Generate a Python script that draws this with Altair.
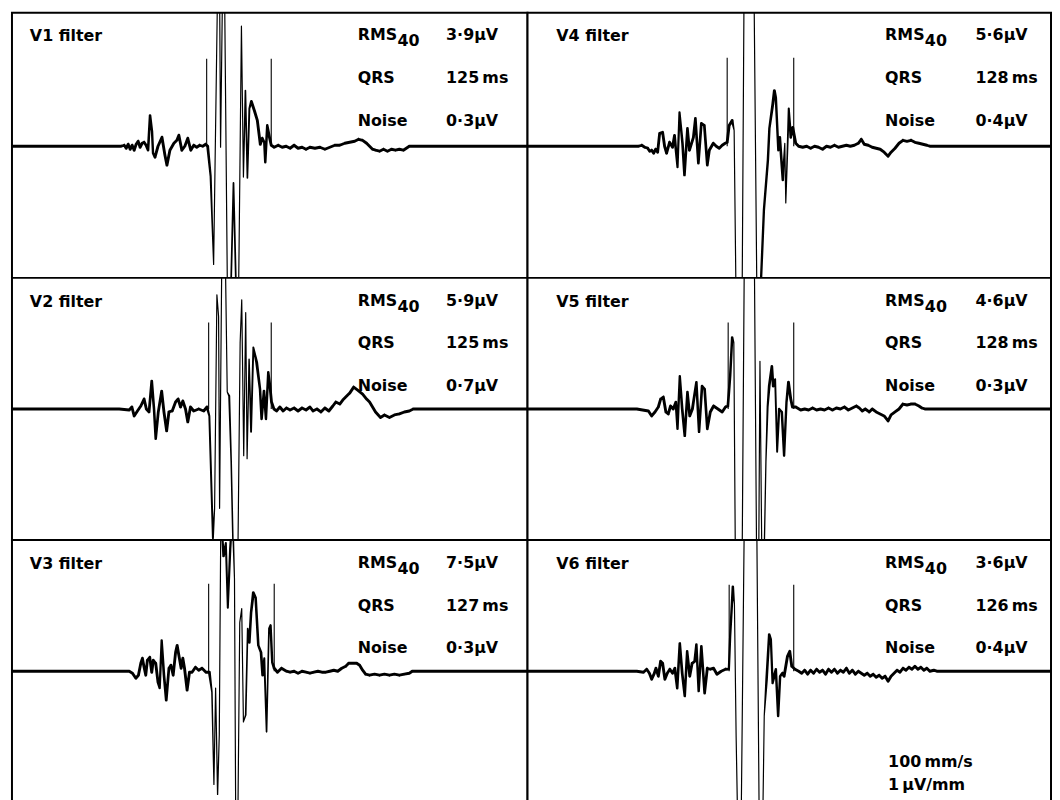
import altair as alt
import numpy as np
import pandas as pd

FONT = "DejaVu Sans"

# grid layout (row-major): left column V1, V2, V3 ; right column V4, V5, V6
GRID = [["V1", "V4"], ["V2", "V5"], ["V3", "V6"]]

LEADS = ["V1", "V2", "V3", "V4", "V5", "V6"]
RMS40 = ["3·9µV", "5·9µV", "7·5µV", "5·6µV", "4·6µV", "3·6µV"]
QRSD = ["125\u2009ms", "125\u2009ms", "127\u2009ms", "128\u2009ms", "128\u2009ms", "126\u2009ms"]
NOISE = ["0·3µV", "0·7µV", "0·3µV", "0·4µV", "0·3µV", "0·4µV"]
ONSET_MS = [196, 198, 198, 201, 202, 203]
OFFSET_MS = [261, 261, 264, 268, 268, 268]
MARK_TOP_UV = [8.8, 8.7, 8.8, 8.9, 8.7, 8.7]
SWEEP = "100\u2009mm/s"
GAIN = "1\u2009µV/mm"

# traces: (time ms, amplitude µV); values beyond the frame are clipped
V1_TRACE = [
    (0, 0), (110, 0), (113, 0.1), (115, -0.2), (117, 0.2), (119, -0.3), (121, 0.1), (123, -0.4), (125, 0.2),
    (127, 0.5), (129, -0.1), (131, 0.3), (133, 0.4), (135, 0.1), (137, -0.4), (139, 3.1), (141, 1.5), (142, -0.7),
    (144, -1.1), (147, 0.0), (151, 0.9), (154, -0.9), (156, -1.9), (159, -0.4), (163, 0.3), (166, 0.6), (168, 1.1),
    (171, -0.4), (174, 0.0), (177, 0.8), (180, -0.4), (183, 0.1), (186, -0.1), (189, 0.1), (192, 0.0), (195, 0.2),
    (197, 0.0), (200, -3.0), (203, -11.9), (207, 16), (209, 16), (210, -0.1), (212, 16), (214, 16), (217, -16),
    (220, -16), (223, -3.7), (226, -16), (228, -16), (231, 12.1), (233, -3.1), (235, 5.6), (237, -3.2), (239, 3.8),
    (241, 4.5), (244, 3.6), (247, 2.6), (250, 0.2), (252, 0.8), (254, 0.4), (255, -1.6), (257, 2.1), (259, 1.0),
    (261, 0.1), (264, -0.1), (268, 0.1), (272, -0.1), (276, 0.0), (280, -0.2), (284, 0.1), (288, -0.2), (292, -0.1),
    (296, -0.3), (300, -0.1), (305, -0.2), (310, -0.1), (315, -0.3), (320, -0.1), (325, 0.1), (330, 0.1), (335, 0.3),
    (340, 0.4), (345, 0.5), (349, 0.7), (353, 0.6), (357, 0.3), (360, 0.0), (363, -0.3), (366, -0.4), (370, -0.5),
    (374, -0.3), (378, -0.5), (382, -0.3), (386, -0.4), (390, -0.3), (394, -0.4), (397, -0.2), (400, 0.0), (519, 0),
]

V2_TRACE = [
    (0, 0), (108, 0), (118, -0.1), (120.7, 0.2), (123, -0.7), (126.3, -0.2), (129.7, 0.3), (133, 1.0), (135.3, 0.0),
    (138, -0.3), (140.7, 2.8), (143, 0.0), (144.7, -3.0), (147.3, -0.3), (150.7, 1.8), (153, -0.3), (155.7, -2.2),
    (158, -0.3), (161.3, -0.2), (164.7, 0.7), (167.3, 1.0), (169.7, 0.2), (172, 0.8), (174.7, 0.0), (177, -1.3),
    (179.7, 0.2), (183, -0.2), (188, 0.0), (193, -0.2), (196.3, 0.2),
    (198.7, -0.7), (202.3, -13.0), (204, -10.0), (206.3, 11.5), (208, 9.3), (209, -10.0), (211.3, 16), (214.7, 16),
    (216.7, 1.7), (218.7, 1.3), (220.7, -5.3), (223, -16), (227.3, -16), (229.7, 6.7), (231.3, 11.0), (233.3, -4.7),
    (235.3, 9.7), (236.7, -5.0), (238.7, 5.0), (240.7, -2.3), (243, 6.2), (246.3, 4.7), (249.7, 2.0), (251.3, -1.0),
    (253.7, 1.8), (255.7, -1.0), (258, 3.7), (259.7, 2.3), (261.3, 0.7), (263.7, 0.0), (266.3, -0.2), (269.7, 0.2),
    (273, -0.2), (276.3, 0.1), (280, -0.1), (284, 0.1), (288, -0.2), (292, 0.1), (296, -0.1), (300, 0.2), (303, -0.2),
    (307, 0.0), (311, -0.3), (315, 0.1), (319, -0.2), (323, 0.3), (326, 0.7), (330, 0.5), (333, 0.9), (336, 1.2),
    (340, 1.6), (344, 2.2), (348, 1.9), (353, 1.5), (357, 1.0), (360, 0.7), (363, 0.2), (366, -0.3), (371, -0.85),
    (375, -0.6), (380, -0.85), (385, -0.6), (390, -0.5), (395, -0.3), (400, -0.2), (404, 0.0), (519, 0),
]

V3_TRACE = [
    (0, 0), (108, 0), (118, 0.0), (121.3, -0.2), (124.7, -0.7), (127.3, -0.4), (129.7, 0.8), (131.3, 1.3), (133, 0.4),
    (134.7, -0.4), (136.3, 1.1), (138.7, 1.4), (140.7, -0.1), (142.3, 1.1), (144.7, 0.8), (147, -1.1), (148.7, -1.7),
    (150.7, 3.1), (153, -0.4), (155.3, -2.9), (158, 0.3), (160, 0.6), (162.3, -0.4), (164.7, 1.9), (166.3, 2.6),
    (168, 1.6), (170.3, 0.3), (172, 1.3), (173.7, 0.3), (176.3, -1.9), (178.7, -0.1), (181.3, -0.1), (184.7, 0.4),
    (188, 0.1), (191.3, 0.3), (195.3, -0.1),
    (198.7, -0.1), (201.3, -2.1), (203.3, -11.4), (205, -1.7), (207, -12.4), (208.7, -6.4), (210.3, 16), (213, 11.6),
    (215.3, 12.9), (217.3, 6.4), (219.7, 12.3), (222, 16), (224, 9.3), (225.3, -16), (227.3, -16), (229.3, 4.9),
    (231.3, 6.3), (233, -5.1), (235.3, -4.4), (237.3, 4.3), (239, 2.9), (240.7, 5.9), (243, 7.9), (245.3, 7.4),
    (248, 2.6), (250.7, 1.9), (252.3, -0.4), (254, 1.3), (256.3, -6.1), (258.7, 4.3), (260.3, 4.6), (262, 0.9),
    (264, 0.3), (267.3, -0.1), (271.3, 0.3), (276.3, 0.0), (280, -0.1), (284, 0.0), (288, -0.2), (292, 0.0),
    (296, -0.1), (300, -0.2), (304, -0.1), (308, 0.0), (312, -0.1), (316, -0.1), (320, 0.0), (324, 0.1), (328, 0.0),
    (332, 0.3), (336, 0.5), (339, 0.8), (343, 0.8), (347, 0.8), (350, 0.6), (353, 0.1), (356, -0.3), (360, -0.4),
    (365, -0.3), (370, -0.4), (375, -0.3), (380, -0.4), (385, -0.3), (390, -0.4), (395, -0.3), (400, -0.2),
    (403, 0.0), (519, 0),
]

V4_TRACE = [
    (0, 0), (112, 0), (115, 0.1), (118, -0.1), (121, -0.2), (123, -0.5), (125, -0.4), (127, -0.7), (129, -0.3),
    (131, -0.6), (133, 1.3), (136, 1.4), (138, 0.0), (140, -0.7), (143, 0.4), (146, -0.1), (148, 1.1), (151, -2.1),
    (153, 3.4), (156, 0.3), (158, -2.9), (161, 1.8), (163, -0.4), (167, 0.9), (169, 2.8), (172, -1.7), (175, 2.3),
    (178, 2.1), (181, -1.9), (183, -0.4), (187, 0.3), (190, 0.0), (193, -0.2), (196, 0.1), (199, 0.3),
    (201, 0.4), (203, 2.1), (206, 2.6), (208, 1.6), (210, -16), (216, -16), (218, 16), (228, 16), (231, -16),
    (234, -16), (238, -6.4), (242, -1.4), (243.5, 1.8), (247, 4.3), (248.5, 5.6), (250, 4.9), (252.5, -0.4),
    (254, 0.9), (257, -3.4), (259, 0.3), (260, -5.7), (263, 3.8), (265, 0.9), (267, 1.9), (270, 0.3), (273, 0.0),
    (277, -0.1), (281, 0.0), (285, -0.2), (289, 0.0), (293, -0.1), (297, -0.3), (301, 0.0), (305, -0.1), (309, 0.1),
    (313, -0.1), (317, 0.0), (321, 0.1), (325, 0.0), (329, 0.1), (333, 0.3), (336, 0.7), (339, 0.2), (343, 0.1),
    (347, -0.1), (351, -0.2), (355, -0.3), (359, -0.6), (363, -1.0), (366, -0.6), (370, -0.2), (374, 0.3),
    (378, 0.6), (382, 0.5), (386, 0.6), (390, 0.4), (394, 0.3), (398, 0.2), (402, 0.1), (405, 0.0), (527, 0),
]

V5_TRACE = [
    (0, 0), (110, 0), (121.7, -0.2), (125, -0.7), (128.3, -0.3), (131.7, 0.2), (134, 1.0), (136.7, 1.2), (139.3, -0.3),
    (141.7, -0.5), (144, 0.3), (146.7, 0.0), (149.3, 0.7), (151, -2.0), (153.3, 3.3), (155.7, 0.0), (158.3, -2.7),
    (161, 1.7), (163.3, -0.7), (166, 0.0), (170, 2.7), (172.7, -2.3), (175.7, 2.3), (178.3, 2.0), (181, -2.0),
    (184, -0.3), (187.3, 0.3), (191.7, 0.0), (196, -0.3), (199.3, 0.2),
    (201.7, 0.3), (204, 3.3), (206, 7.2), (207.7, 6.7), (209.3, -16), (216, -16), (218.3, 16), (228.3, 16),
    (230.7, -16), (232.7, -16), (234, 4.8), (236, -16), (238, -16), (240, -5.3), (241.7, 0.2), (243.3, 2.3),
    (246, 4.3), (247.3, 2.3), (249.3, 3.0), (251.3, -4.3), (253.3, 0.0), (256, -0.3), (258.3, -4.7), (260.7, 0.7),
    (262.7, 2.7), (265, 1.0), (266.7, 0.2), (270, 0.2), (275, -0.1), (279, 0.0), (283, -0.1), (287, 0.1),
    (291, -0.1), (295, 0.0), (299, -0.1), (303, 0.1), (307, -0.1), (311, 0.1), (315, 0.0), (319, 0.2), (323, -0.1),
    (327, 0.1), (331, 0.3), (334, 0.1), (337, -0.2), (340, 0.0), (344, -0.3), (347, 0.0), (351, -0.3), (355, -0.5),
    (359, -0.7), (363, -1.2), (366, -0.6), (370, -0.3), (374, 0.0), (378, 0.5), (382, 0.4), (386, 0.5), (390, 0.5),
    (394, 0.3), (397, 0.1), (400, 0.0), (527, 0),
]

V6_TRACE = [
    (0, 0), (110, 0), (116.7, -0.1), (120, 0.2), (122.7, -0.2), (125, -0.8), (127.3, -0.3), (129.3, 0.3),
    (131.7, -0.5), (134, 1.0), (136, 0.8), (138.3, -0.8), (140.7, -0.2), (143.3, 0.2), (146, -0.2), (148.3, 0.3),
    (150.7, -1.7), (153.3, 2.8), (155.7, -0.2), (158.3, -2.5), (160.7, 2.0), (163.3, -0.5), (165.7, 0.8),
    (168.3, 1.0), (170, 2.7), (172.3, -2.0), (175, 2.5), (178.3, -2.2), (181, 0.3), (184, 0.2), (187.3, 0.3),
    (190.7, -0.3), (195, 0.0), (199.3, 0.2),
    (202.7, 0.2), (204, 3.5), (206.7, 8.5), (208.3, 6.8), (210, -6.5), (211.7, -16), (215, -16), (218.3, 16),
    (230.7, 16), (233.3, -16), (236.7, -16), (238.3, -4.5), (240.7, -0.8), (243.3, 3.7), (245, 3.2), (246.7, -1.2),
    (248.3, -0.5), (250, 0.2), (252.3, -4.5), (254.3, -0.5), (256.7, -0.2), (258.3, -0.5), (261.7, 1.5), (264, 2.0),
    (266, 0.5), (269.3, 0.2), (273, 0.0), (276, -0.2), (279, 0.1), (282, -0.3), (285, 0.1), (288, -0.2), (291, 0.2),
    (294, -0.1), (297, 0.1), (300, -0.3), (303, 0.2), (306, -0.1), (309, 0.2), (312, -0.2), (315, 0.1), (318, -0.1),
    (321, 0.3), (324, -0.2), (327, 0.1), (330, -0.3), (333, 0.0), (336, -0.2), (339, -0.4), (342, -0.2), (345, -0.5),
    (348, -0.3), (351, -0.6), (354, -0.4), (357, -0.7), (360, -0.5), (363, -1.0), (366, -0.5), (369, -0.2),
    (372, 0.1), (375, -0.1), (378, 0.3), (381, 0.1), (384, 0.4), (387, 0.2), (390, 0.5), (393, 0.2), (396, 0.4),
    (399, 0.1), (402, 0.3), (405, 0.0), (409, 0.1), (412, 0.0), (527, 0),
]

TRACES = {"V1": V1_TRACE, "V2": V2_TRACE, "V3": V3_TRACE, "V4": V4_TRACE, "V5": V5_TRACE, "V6": V6_TRACE}

# layout (pixels)
PANEL_W = {0: 519, 1: 527}
ROW_H = [267, 264, 265]
ROW_BASE = [134.5, 132, 132]      # baseline distance from the panel top, px (10 px per µV)
TEXT_X = {0: dict(lead=18, name=348, val=437), 1: dict(lead=29, name=360, val=451)}
TEXT_Y = [23, 66, 109]


def text_layer(s, x, y, size=16):
    return alt.Chart(pd.DataFrame({"s": [s]})).mark_text(
        align="left", baseline="middle", font=FONT, fontSize=size, fontWeight="bold", color="black"
    ).encode(x=alt.value(x), y=alt.value(y), text="s:N")


def pen_width(df):
    # fast pen strokes (steep QRS deflections) are drawn thinner, like the plotter trace
    t = df["t"].to_numpy(float)
    u = df["u"].to_numpy(float)
    s = np.abs(np.diff(u) / np.diff(t))
    s_in = np.concatenate([[0.0], s])
    s_out = np.concatenate([s, [0.0]])
    sl = np.maximum(s_in, s_out)
    return np.clip(3.2 - 0.35 * sl, 1.2, 2.9)


def panel(lead, row, col):
    k = LEADS.index(lead)
    w = PANEL_W[col]
    h = ROW_H[row]
    top = ROW_BASE[row] / 10.0
    bottom = -(h - ROW_BASE[row]) / 10.0
    df = pd.DataFrame(TRACES[lead], columns=["t", "u"])
    df["i"] = range(len(df))
    df["w"] = pen_width(df)
    xs = alt.Scale(domain=[0, w], nice=False, zero=False)
    ys = alt.Scale(domain=[bottom, top], nice=False, zero=False)
    trace = alt.Chart(df).mark_trail(color="black", clip=True).encode(
        x=alt.X("t:Q", scale=xs, axis=None),
        y=alt.Y("u:Q", scale=ys, axis=None),
        order=alt.Order("i:Q"),
        size=alt.Size("w:Q", scale=None, legend=None),
    )
    mk = pd.DataFrame({"t": [ONSET_MS[k], OFFSET_MS[k]], "u": [0, 0], "u2": [MARK_TOP_UV[k]] * 2})
    markers = alt.Chart(mk).mark_rule(color="black", strokeWidth=1.1).encode(
        x=alt.X("t:Q", scale=xs, axis=None),
        y=alt.Y("u:Q", scale=ys, axis=None),
        y2="u2:Q",
    )
    tx = TEXT_X[col]
    layers = [
        trace,
        markers,
        text_layer(f"{lead} filter", tx["lead"], 24),
        text_layer("RMS", tx["name"], TEXT_Y[0]),
        text_layer("40", tx["name"] + 40, TEXT_Y[0] + 6),
        text_layer(RMS40[k], tx["val"], TEXT_Y[0]),
        text_layer("QRS", tx["name"], TEXT_Y[1]),
        text_layer(QRSD[k], tx["val"], TEXT_Y[1]),
        text_layer("Noise", tx["name"], TEXT_Y[2]),
        text_layer(NOISE[k], tx["val"], TEXT_Y[2]),
    ]
    if lead == "V6":
        layers.append(text_layer(SWEEP, 363, 223))
        layers.append(text_layer(GAIN, 363, 247))
    return alt.layer(*layers).properties(width=w, height=h)


panels = [panel(l, r, c) for r, row in enumerate(GRID) for c, l in enumerate(row)]

chart = alt.concat(*panels, columns=2, spacing=0, bounds="flush").properties(
    padding={"left": 3, "top": 1, "right": 0, "bottom": 0},
    background="white",
).configure_view(stroke="black", strokeWidth=2, fill="white")

chart.save("out.html", embed_options={"renderer": "svg", "actions": False})
